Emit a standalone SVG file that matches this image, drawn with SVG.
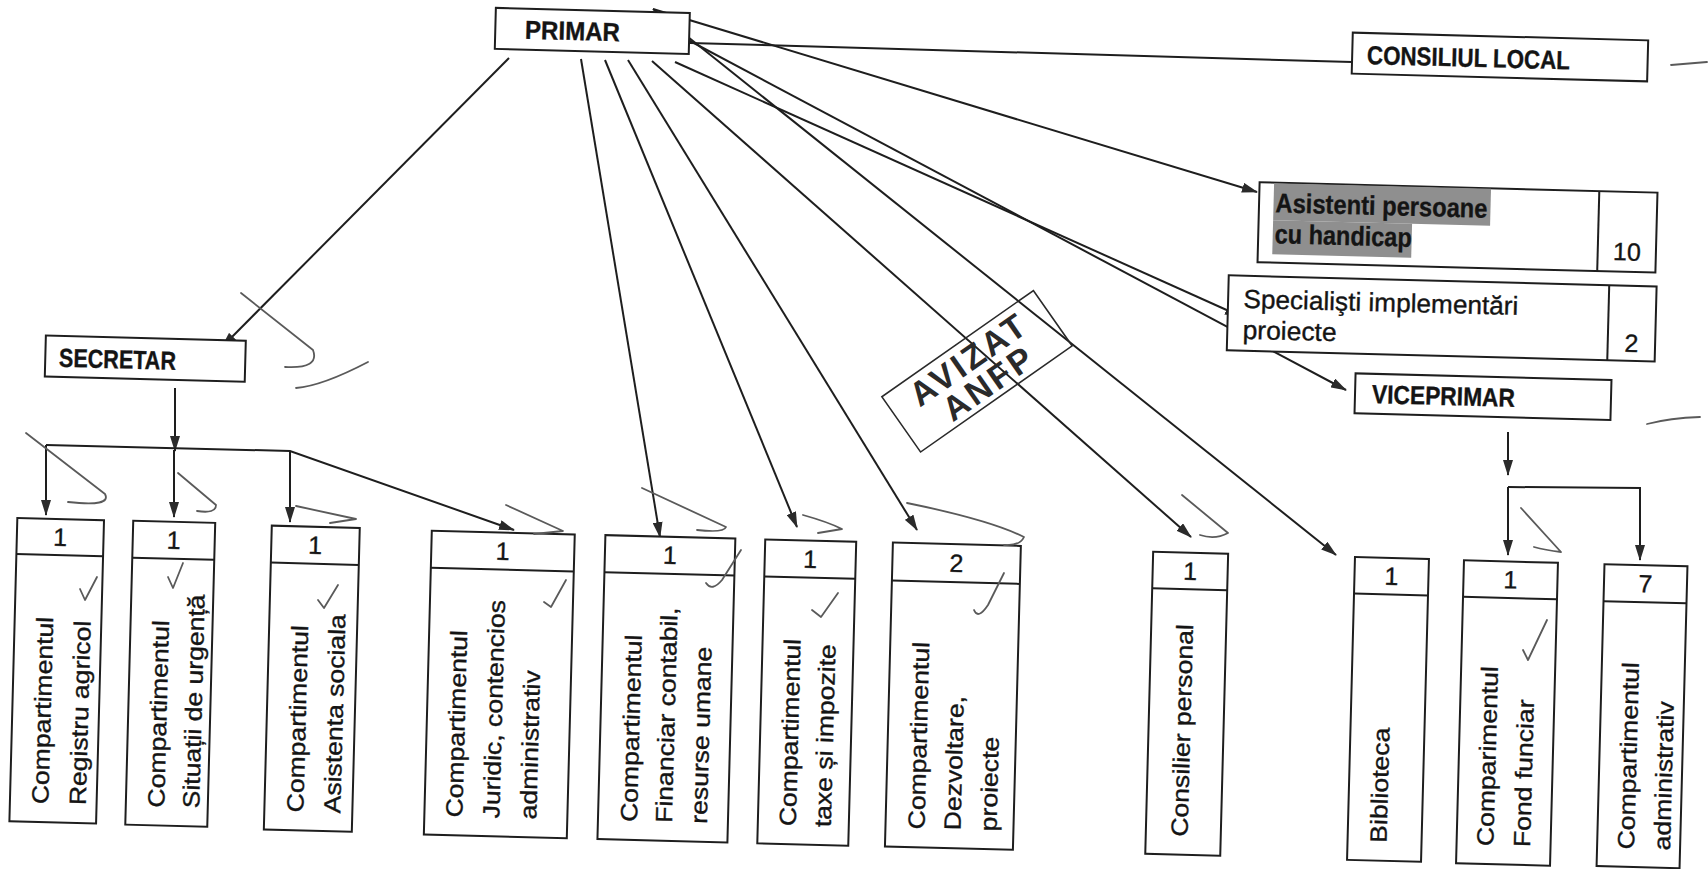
<svg xmlns="http://www.w3.org/2000/svg" width="1708" height="869" viewBox="0 0 1708 869">
<style>
.bx{fill:#fff;stroke:#1e1e1e;stroke-width:2}
.dv{stroke:#1e1e1e;stroke-width:2}
.t{font-family:"Liberation Sans",Arial,sans-serif;fill:#141414;stroke:#141414;stroke-width:0.35}
.hb{font-weight:bold;font-size:26px}
.h{font-size:26px}
.n{font-size:25px;text-anchor:middle}
.v{font-size:23.5px}
.c{stroke:#1e1e1e;stroke-width:2;fill:none}
.a{marker-end:url(#ah)}
.ann{stroke:#5a5a5a;stroke-width:1.8;fill:none;stroke-linecap:round;stroke-linejoin:round}
.hl{fill:#8f8f8f}
</style>
<defs>
<marker id="ah" viewBox="0 0 16 10" refX="15" refY="5" markerWidth="16" markerHeight="10" markerUnits="userSpaceOnUse" orient="auto"><path d="M0,0 L16,5 L0,10 z" fill="#2a2a2a"/></marker>
</defs>
<rect width="1708" height="869" fill="#fff"/>

<g id="connectors">
<path class="c a" d="M509,58 L222,347"/>
<path class="c a" d="M581,59 L660,537"/>
<path class="c a" d="M605,60 L797,527"/>
<path class="c a" d="M628,60 L917,530"/>
<path class="c a" d="M652,61 L1191,537"/>
<path class="c a" d="M675,62 L1240,316"/>
<path class="c a" d="M675,33 L1346,390"/>
<path class="c a" d="M653,9 L1336,555"/>
<path class="c a" d="M653,9 L1257,192"/>
<path class="c" d="M690,43 L1352,62"/>
<path class="c a" d="M175,388 L175,451"/>
<path class="c a" d="M46,445 L290,451 L514,530"/>
<path class="c a" d="M46,445 L46,515"/>
<path class="c a" d="M174,450 L174,517"/>
<path class="c a" d="M290,451 L290,522"/>
<path class="c a" d="M1508,432 L1508,475"/>
<path class="c" d="M1508,487 L1641,488"/>
<path class="c a" d="M1508,487 L1508,555"/>
<path class="c a" d="M1640,488 L1640,560"/>
</g>

<g id="primar" transform="rotate(1.5 592.3 30.9)">
<rect class="bx" x="495.3" y="10.4" width="194" height="41"/>
<text class="t hb" x="525" y="40.5" textLength="95" lengthAdjust="spacingAndGlyphs">PRIMAR</text>
</g>

<g id="consiliul-local" transform="rotate(1.5 1500 57)">
<rect class="bx" x="1352.2" y="36.5" width="295.5" height="41"/>
<text class="t hb" x="1367" y="67.5" textLength="203" lengthAdjust="spacingAndGlyphs">CONSILIUL LOCAL</text>
</g>

<g id="asistenti" transform="rotate(1.5 1457.5 227.4)">
<rect class="bx" x="1258.5" y="187.4" width="398" height="80"/>
<line class="dv" x1="1598.3" y1="187.4" x2="1598.3" y2="267.4"/>
<rect class="hl" x="1273" y="188" width="217" height="37"/>
<rect class="hl" x="1273" y="225" width="139" height="34"/>
<text class="t" x="1275" y="217" font-size="27" font-weight="bold" textLength="212" lengthAdjust="spacingAndGlyphs">Asistenti persoane</text>
<text class="t" x="1275" y="248" font-size="27" font-weight="bold" textLength="137" lengthAdjust="spacingAndGlyphs">cu handicap</text>
<text class="t n" x="1627.5" y="256">10</text>
</g>

<g id="specialisti" transform="rotate(1.5 1441.7 318.4)">
<rect class="bx" x="1227.7" y="280.9" width="428" height="75"/>
<line class="dv" x1="1608.3" y1="280.9" x2="1608.3" y2="355.9"/>
<text class="t h" x="1243" y="313" textLength="275" lengthAdjust="spacingAndGlyphs">Specialişti implementări</text>
<text class="t h" x="1243" y="344" textLength="94" lengthAdjust="spacingAndGlyphs">proiecte</text>
<text class="t n" x="1632" y="347">2</text>
</g>

<g id="viceprimar" transform="rotate(1.5 1483 396.7)">
<rect class="bx" x="1355" y="376.7" width="256" height="40"/>
<text class="t hb" x="1372" y="406" textLength="143" lengthAdjust="spacingAndGlyphs">VICEPRIMAR</text>
</g>

<g id="secretar" transform="rotate(1.5 145.3 358.7)">
<rect class="bx" x="45.3" y="338.2" width="200" height="41"/>
<text class="t hb" x="59" y="369" textLength="117" lengthAdjust="spacingAndGlyphs">SECRETAR</text>
</g>

<g id="stamp" transform="translate(977 371.3) rotate(-35)">
<rect x="-92.5" y="-33.75" width="185" height="67.5" fill="none" stroke="#2a2a2a" stroke-width="1.6"/>
<text x="0" y="-3" font-family="Liberation Sans, Arial, sans-serif" font-size="34" font-weight="bold" letter-spacing="3" text-anchor="middle" fill="#2a2a2a">AVIZAT</text>
<text x="3" y="28" font-family="Liberation Sans, Arial, sans-serif" font-size="34" font-weight="bold" letter-spacing="3" text-anchor="middle" fill="#2a2a2a">ANFP</text>
</g>

<g id="registru-agricol" transform="rotate(1.5 56.7 670.8)">
<rect class="bx" x="13.35" y="519.1" width="86.7" height="303.4"/>
<line class="dv" x1="13.35" y1="555.1" x2="100.05" y2="555.1"/>
<text class="t n" x="56.7" y="546">1</text>
<text class="t v" transform="translate(51.85 804.5) rotate(-90) scale(1.13 1)">Compartimentul</text>
<text class="t v" transform="translate(89.35 804.5) rotate(-90) scale(1.13 1)">Registru agricol</text>
</g>

<g id="situatii-urgenta" transform="rotate(1.5 170.25 673.75)">
<rect class="bx" x="129.25" y="521.75" width="82" height="304"/>
<line class="dv" x1="129.25" y1="558.75" x2="211.25" y2="558.75"/>
<text class="t n" x="170.25" y="549">1</text>
<text class="t v" transform="translate(167.65 807.75) rotate(-90) scale(1.13 1)">Compartimentul</text>
<text class="t v" transform="translate(202.65 807.75) rotate(-90) scale(1.13 1)">Situații de urgență</text>
</g>

<g id="asistenta-sociala" transform="rotate(1.5 311.8 678.7)">
<rect class="bx" x="267.8" y="526.7" width="88" height="304"/>
<line class="dv" x1="267.8" y1="563.7" x2="355.8" y2="563.7"/>
<text class="t n" x="311.8" y="554">1</text>
<text class="t v" transform="translate(306.8 812.7) rotate(-90) scale(1.13 1)">Compartimentul</text>
<text class="t v" transform="translate(343.8 812.7) rotate(-90) scale(1.13 1)">Asistenta sociala</text>
</g>

<g id="juridic" transform="rotate(1.5 499.3 684.5)">
<rect class="bx" x="427.8" y="532.5" width="143" height="304"/>
<line class="dv" x1="427.8" y1="569.5" x2="570.8" y2="569.5"/>
<text class="t n" x="499.3" y="560">1</text>
<text class="t v" transform="translate(465.8 818.5) rotate(-90) scale(1.13 1)">Compartimentul</text>
<text class="t v" transform="translate(502.8 818.5) rotate(-90) scale(1.13 1)">Juridic, contencios</text>
<text class="t v" transform="translate(539.8 818.5) rotate(-90) scale(1.13 1)">administrativ</text>
</g>

<g id="financiar" transform="rotate(1.5 666.4 688.8)">
<rect class="bx" x="601.4" y="536.8" width="130" height="304"/>
<line class="dv" x1="601.4" y1="573.8" x2="731.4" y2="573.8"/>
<text class="t n" x="666.4" y="564">1</text>
<text class="t v" transform="translate(640.4 822.8) rotate(-90) scale(1.13 1)">Compartimentul</text>
<text class="t v" transform="translate(675.4 822.8) rotate(-90) scale(1.13 1)">Financiar contabil,</text>
<text class="t v" transform="translate(710.4 822.8) rotate(-90) scale(1.13 1)">resurse umane</text>
</g>

<g id="taxe-impozite" transform="rotate(1.5 806.75 692.6)">
<rect class="bx" x="761.25" y="540.6" width="91" height="304"/>
<line class="dv" x1="761.25" y1="577.6" x2="852.25" y2="577.6"/>
<text class="t n" x="806.75" y="568">1</text>
<text class="t v" transform="translate(799.25 826.6) rotate(-90) scale(1.13 1)">Compartimentul</text>
<text class="t v" transform="translate(834.25 826.6) rotate(-90) scale(1.13 1)">taxe și impozite</text>
</g>

<g id="dezvoltare" transform="rotate(1.5 952.9 696.2)">
<rect class="bx" x="888.9" y="544.2" width="128" height="304"/>
<line class="dv" x1="888.9" y1="582.2" x2="1016.9" y2="582.2"/>
<text class="t n" x="952.9" y="572">2</text>
<text class="t v" transform="translate(927.9 830.2) rotate(-90) scale(1.13 1)">Compartimentul</text>
<text class="t v" transform="translate(963.9 830.2) rotate(-90) scale(1.13 1)">Dezvoltare,</text>
<text class="t v" transform="translate(999.9 830.2) rotate(-90) scale(1.13 1)">proiecte</text>
</g>

<g id="consilier-personal" transform="rotate(1.5 1186.7 703.75)">
<rect class="bx" x="1149.2" y="552.75" width="75" height="302"/>
<line class="dv" x1="1149.2" y1="589.25" x2="1224.2" y2="589.25"/>
<text class="t n" x="1186.7" y="580">1</text>
<text class="t v" transform="translate(1191 836.75) rotate(-90) scale(1.13 1)">Consilier personal</text>
</g>

<g id="biblioteca" transform="rotate(1.5 1388 709.4)">
<rect class="bx" x="1351" y="557.9" width="74" height="303"/>
<line class="dv" x1="1351" y1="594.4" x2="1425" y2="594.4"/>
<text class="t n" x="1388" y="585">1</text>
<text class="t v" transform="translate(1390 842.9) rotate(-90) scale(1.13 1)">Biblioteca</text>
</g>

<g id="fond-funciar" transform="rotate(1.5 1507 713)">
<rect class="bx" x="1460" y="561.5" width="94" height="303"/>
<line class="dv" x1="1460" y1="598" x2="1554" y2="598"/>
<text class="t n" x="1507" y="588.5">1</text>
<text class="t v" transform="translate(1496.8 846.5) rotate(-90) scale(1.13 1)">Comparimentul</text>
<text class="t v" transform="translate(1533.6 846.5) rotate(-90) scale(1.13 1)">Fond funciar</text>
</g>

<g id="administrativ" transform="rotate(1.5 1642 716.7)">
<rect class="bx" x="1600.5" y="565.2" width="83" height="302"/>
<line class="dv" x1="1600.5" y1="602.2" x2="1683.5" y2="602.2"/>
<text class="t n" x="1642" y="592.5">7</text>
<text class="t v" transform="translate(1637.6 849.7) rotate(-90) scale(1.13 1)">Compartimentul</text>
<text class="t v" transform="translate(1673.5 849.7) rotate(-90) scale(1.13 1)">administrativ</text>
</g>

<g id="annotations">
<path class="ann" d="M241,293 L313,350 Q320,369 285,367"/>
<path class="ann" d="M296,388 Q322,386 368,362"/>
<path class="ann" d="M26,433 L105,494 Q112,507 68,502"/>
<path class="ann" d="M178,473 L216,505 Q216,514 197,511"/>
<path class="ann" d="M296,506 L356,519 L330,523"/>
<path class="ann" d="M506,505 L563,531 L534,534"/>
<path class="ann" d="M642,488 L726,527 Q724,533 697,530"/>
<path class="ann" d="M803,515 Q828,522 842,529 L818,533"/>
<path class="ann" d="M907,503 Q990,520 1024,537 Q1020,546 1004,545"/>
<path class="ann" d="M1182,495 L1228,533 Q1215,540 1200,535"/>
<path class="ann" d="M1521,508 L1561,552 Q1545,550 1534,547"/>
<path class="ann" d="M1671,65 L1707,62"/>
<path class="ann" d="M1647,424 Q1670,418 1700,417"/>
<path class="ann" d="M80,589 L85,600 L97,577"/>
<path class="ann" d="M168,577 L173,588 L183,563"/>
<path class="ann" d="M318,600 L324,608 L338,585"/>
<path class="ann" d="M544,602 L551,607 L566,580"/>
<path class="ann" d="M706,583 Q712,592 722,580 L741,550"/>
<path class="ann" d="M812,610 L821,617 L838,593"/>
<path class="ann" d="M974,610 Q978,620 988,605 L1004,573"/>
<path class="ann" d="M1523,650 L1528,660 L1547,620"/>
</g>
</svg>
